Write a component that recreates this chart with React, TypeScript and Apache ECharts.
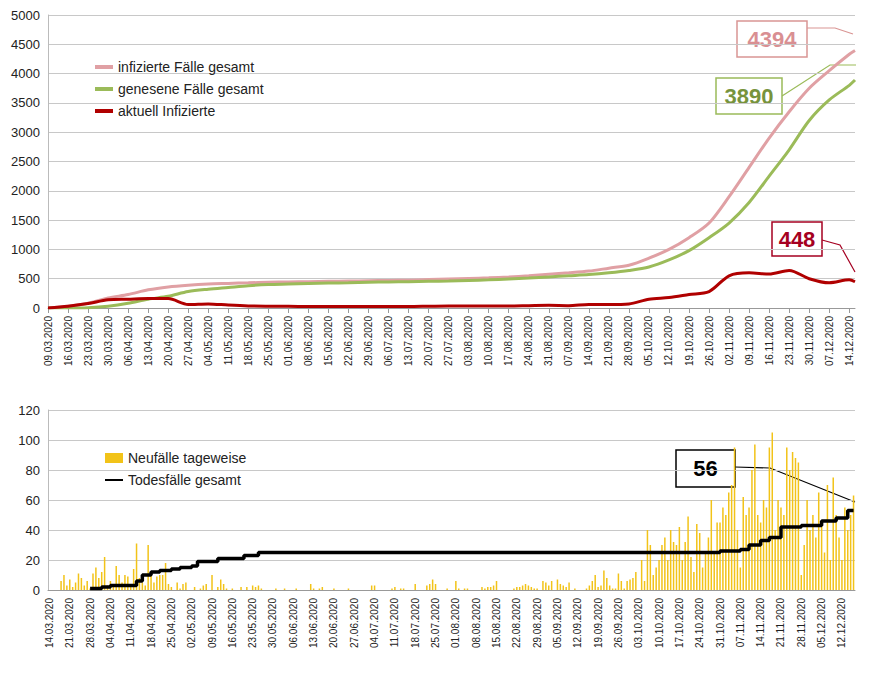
import * as echarts from "echarts";
import { useEffect, useRef } from "react";

// weekly readings of the upper chart (Mondays, plus the last day)
const topDates = ["09.03.2020","16.03.2020","23.03.2020","30.03.2020","06.04.2020","13.04.2020","20.04.2020","27.04.2020","04.05.2020","11.05.2020","18.05.2020","25.05.2020","01.06.2020","08.06.2020","15.06.2020","22.06.2020","29.06.2020","06.07.2020","13.07.2020","20.07.2020","27.07.2020","03.08.2020","10.08.2020","17.08.2020","24.08.2020","31.08.2020","07.09.2020","14.09.2020","21.09.2020","28.09.2020","05.10.2020","12.10.2020","19.10.2020","26.10.2020","02.11.2020","09.11.2020","16.11.2020","23.11.2020","30.11.2020","07.12.2020","14.12.2020","16.12.2020"];
const infiziert = [0,30,80,170,230,310,360,390,410,420,430,440,445,450,455,460,465,470,475,485,495,505,515,530,550,575,600,630,680,730,850,1000,1200,1450,1900,2400,2900,3350,3750,4050,4330,4394];
const genesen = [0,0,5,30,80,150,200,280,320,350,380,400,410,420,425,430,440,445,450,455,460,470,480,495,510,530,550,570,600,640,700,820,980,1200,1450,1800,2250,2700,3200,3550,3800,3890];
const aktuell = [0,30,75,140,150,160,160,60,70,50,35,30,28,25,25,25,25,25,25,30,35,35,35,35,40,45,40,60,60,70,150,180,230,280,550,600,580,640,500,430,480,448];

// daily new cases from 14.03.2020
const neufaelle = [
  0,0,0,0,6,10,3, 7,2,5,11,8,3,6, 1,11,15,8,12,22,3, 6,2,16,10,5,10,9,
  4,14,31,8,5,3,30, 10,5,9,10,10,18,4, 2,0,5,1,4,5,0, 0,2,0,1,3,4,0,
  10,0,2,7,4,1,0, 1,0,0,2,0,2,0, 3,2,3,1,0,0,0, 0,1,0,0,1,0,0,
  0,1,0,0,0,0,4, 1,0,1,2,0,0,0, 1,0,0,0,0,1,0, 0,0,0,0,0,0,3,
  3,0,0,0,0,0,1, 2,0,1,1,0,0,0, 4,0,0,0,3,4,7, 4,0,0,0,1,0,0,
  6,1,0,1,1,0,0, 0,0,2,1,2,2,3, 6,0,0,0,0,0,1, 2,2,3,4,3,2,1,
  1,0,6,5,3,6,0, 7,4,3,2,5,0,1, 0,0,0,1,3,6,10, 2,3,13,8,3,1,1,
  11,6,1,6,7,8,12, 0,20,6,40,30,10,15, 20,30,35,20,40,32,30, 42,20,32,49,22,12,44,
  38,15,25,35,60,25,45, 45,55,50,65,70,95,40, 15,62,50,55,80,97,50, 45,60,55,95,105,40,60,
  55,50,95,80,92,88,85, 10,30,60,40,50,35,65, 45,25,70,20,75,50,35, 20,55,40,50,63,
];
const todesDates = ["28.03.2020","01.04.2020","04.04.2020","11.04.2020","13.04.2020","15.04.2020","18.04.2020","21.04.2020","25.04.2020","28.04.2020","02.05.2020","04.05.2020","09.05.2020","11.05.2020","16.05.2020","20.05.2020","25.05.2020","27.10.2020","31.10.2020","07.11.2020","10.11.2020","14.11.2020","17.11.2020","21.11.2020","28.11.2020","05.12.2020","10.12.2020","14.12.2020","16.12.2020"];
const todes = [1,2,3,3,6,10,12,13,14,15,16,19,19,21,21,23,25,25,26,27,30,33,35,42,43,46,48,53,53];

const dayList = (start: Date, end: Date) => {
  const out: string[] = [];
  for (let d = new Date(start); d <= end; d.setDate(d.getDate() + 1)) {
    const dd = String(d.getDate()).padStart(2, "0");
    const mm = String(d.getMonth() + 1).padStart(2, "0");
    out.push(`${dd}.${mm}.${d.getFullYear()}`);
  }
  return out;
};

const font = "Liberation Sans, Arial, sans-serif";

const App = () => {
  const chartRef = useRef(null);

  useEffect(() => {
    document.body.style.margin = "0";
    const topCats = dayList(new Date(2020, 2, 9), new Date(2020, 11, 16));
    const botCats = dayList(new Date(2020, 2, 14), new Date(2020, 11, 16));
    const myChart = echarts.init(chartRef.current, null, { renderer: "svg" });
    const xBase = {
      type: "category" as const,
      boundaryGap: false,
      axisLine: { lineStyle: { color: "#999" } },
      axisTick: { interval: 6, lineStyle: { color: "#999" } },
      axisLabel: { interval: 6, rotate: 90, fontSize: 10, color: "#222", fontFamily: font },
    };
    const yBase = {
      type: "value" as const,
      axisLabel: { fontSize: 13, color: "#222", fontFamily: font, formatter: (v: number) => String(v) },
      splitLine: { lineStyle: { color: "#c8c8c8" } },
      axisLine: { show: true, lineStyle: { color: "#bbb" } },
    };
    const box = (x: number, y: number, w: number, h: number, text: string, border: string, color: string) => ({
      type: "group",
      children: [
        { type: "rect", shape: { x, y, width: w, height: h }, style: { fill: "#fff", stroke: border, lineWidth: 1.5 } },
        { type: "text", x: x + w / 2, y: y + h / 2, style: { text, fill: color, font: `bold 22px ${font}`, align: "center", verticalAlign: "middle" } },
      ],
    });
    const lead = (points: number[][], color: string) => ({ type: "polyline", shape: { points }, style: { stroke: color, lineWidth: 1.2, fill: "none" } });
    myChart.setOption({
      animation: false,
      backgroundColor: "#fff",
      grid: [
        { left: 48, right: 15, top: 15, height: 293 },
        { left: 48, right: 15, top: 410, height: 180 },
      ],
      legend: [
        {
          left: 90, top: 55, orient: "vertical", itemGap: 8, itemWidth: 18, itemHeight: 4, icon: "rect",
          textStyle: { fontSize: 14, fontFamily: font, color: "#222" },
          data: ["infizierte Fälle gesamt", "genesene Fälle gesamt", "aktuell Infizierte"],
        },
        {
          left: 100, top: 446, orient: "vertical", itemGap: 8, itemWidth: 18, itemHeight: 10,
          textStyle: { fontSize: 14, fontFamily: font, color: "#222" },
          data: [{ name: "Neufälle tageweise", icon: "rect" }, { name: "Todesfälle gesamt", icon: "path://M0,4H18V6H0Z" }],
        },
      ],
      xAxis: [
        { ...xBase, gridIndex: 0, data: topCats },
        { ...xBase, gridIndex: 1, data: botCats, boundaryGap: true },
      ],
      yAxis: [
        { ...yBase, gridIndex: 0, min: 0, max: 5000, interval: 500 },
        { ...yBase, gridIndex: 1, min: 0, max: 120, interval: 20 },
      ],
      series: [
        { name: "infizierte Fälle gesamt", type: "line", xAxisIndex: 0, yAxisIndex: 0, showSymbol: false, smooth: 0.3, lineStyle: { width: 3, color: "#e0a0a4" }, itemStyle: { color: "#e0a0a4" }, data: topDates.map((d, i) => [d, infiziert[i]]) },
        { name: "genesene Fälle gesamt", type: "line", xAxisIndex: 0, yAxisIndex: 0, showSymbol: false, smooth: 0.3, lineStyle: { width: 3, color: "#9bbb59" }, itemStyle: { color: "#9bbb59" }, data: topDates.map((d, i) => [d, genesen[i]]) },
        { name: "aktuell Infizierte", type: "line", xAxisIndex: 0, yAxisIndex: 0, showSymbol: false, smooth: 0.3, lineStyle: { width: 3, color: "#b00000" }, itemStyle: { color: "#b00000" }, data: topDates.map((d, i) => [d, aktuell[i]]) },
        { name: "Neufälle tageweise", type: "bar", xAxisIndex: 1, yAxisIndex: 1, barWidth: 1.5, itemStyle: { color: "#f2c318" }, data: neufaelle },
        { name: "Todesfälle gesamt", type: "line", xAxisIndex: 1, yAxisIndex: 1, showSymbol: false, step: "end", lineStyle: { width: 3.5, color: "#000" }, itemStyle: { color: "#000" }, data: todesDates.map((d, i) => [d, todes[i]]) },
      ],
      graphic: [
        lead([[807, 28], [835, 28], [853, 34]], "#d99594"),
        box(737, 21, 70, 36, "4394", "#d99594", "#d98f92"),
        lead([[782, 96], [830, 65], [856, 65]], "#9bbb59"),
        box(716, 78, 66, 36, "3890", "#9bbb59", "#77933c"),
        lead([[822, 240], [840, 245], [855, 272]], "#a50021"),
        box(772, 222, 50, 34, "448", "#a50021", "#a50021"),
        lead([[735, 467], [770, 468], [855, 502]], "#000"),
        box(676, 450, 59, 37, "56", "#000", "#000"),
      ],
    });
    return () => {
      myChart.dispose();
    };
  }, []);

  return <div ref={chartRef} style={{ width: "870px", height: "674px" }} />;
};

export default App;
